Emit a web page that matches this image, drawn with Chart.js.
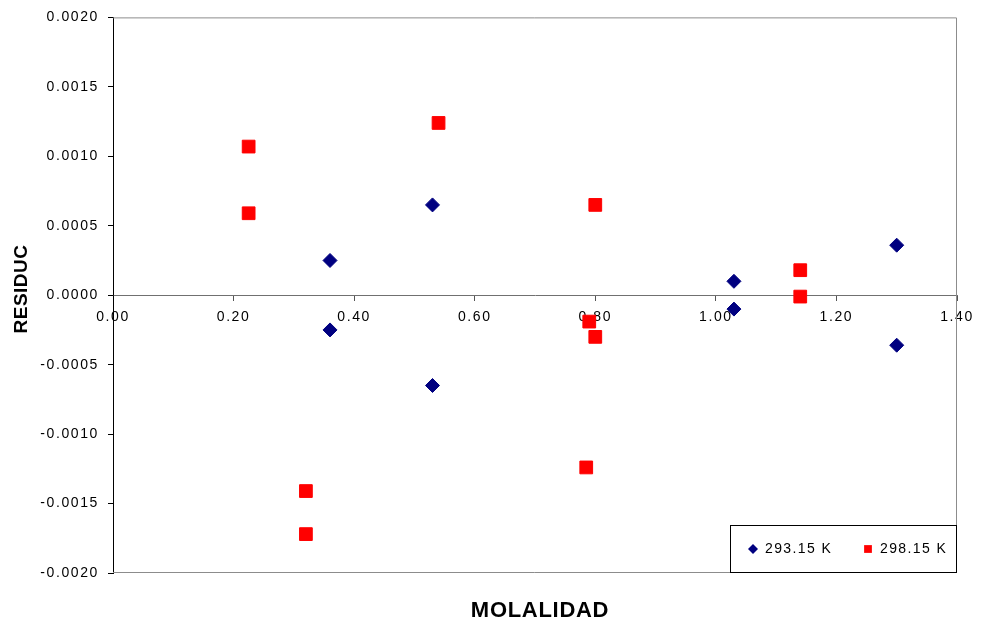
<!DOCTYPE html>
<html>
<head>
<meta charset="utf-8">
<script src="https://cdn.jsdelivr.net/npm/chart.js@4.4.1/dist/chart.umd.min.js"></script>
<style>
  html, body { margin: 0; padding: 0; background: #fff; }
  #wrap { width: 981px; height: 626px; }
</style>
</head>
<body>
<div id="wrap"><canvas id="residChart"></canvas></div>
<script>
// Serie 293.15 K
const molal293 = [0.36, 0.36, 0.53, 0.53, 1.03, 1.03, 1.30, 1.30];
const resid293 = [0.00025, -0.00025, 0.00065, -0.00065, 0.00010, -0.00010, 0.00036, -0.00036];

// Serie 298.15 K
const molal298 = [0.225, 0.225, 0.32, 0.32, 0.54, 0.80, 0.79, 0.80, 0.785, 1.14, 1.14];
const resid298 = [0.00107, 0.00059, -0.00141, -0.00172, 0.00124, 0.00065, -0.00019, -0.00030, -0.00124, 0.00018, -0.00001];

const seriesLabels = ['293.15 K', '298.15 K'];
const xTicks = [0, 0.2, 0.4, 0.6, 0.8, 1.0, 1.2, 1.4];
const yTicks = [-0.002, -0.0015, -0.001, -0.0005, 0, 0.0005, 0.001, 0.0015, 0.002];
const xTitle = 'MOLALIDAD';
const yTitle = 'RESIDUC';

const toPts = (xs, ys) => xs.map((x, i) => ({ x: x, y: ys[i] }));
const FONT = "'Liberation Sans', Arial, sans-serif";

// espaciado de letras como en el original
const spacing = {
    id: 'spacing',
    beforeDraw(chart) { chart.ctx.letterSpacing = '1.6px'; }
};

// marco gris del área de trazado (arriba, derecha, abajo)
const plotFrame = {
    id: 'plotFrame',
    beforeDatasetsDraw(chart) {
        const { ctx, chartArea: a } = chart;
        ctx.save();
        ctx.strokeStyle = '#8c8c8c';
        ctx.lineWidth = 1;
        ctx.beginPath();
        ctx.moveTo(a.left, a.top + 0.5);
        ctx.lineTo(a.right - 0.5, a.top + 0.5);
        ctx.lineTo(a.right - 0.5, a.bottom - 0.5);
        ctx.lineTo(a.left, a.bottom - 0.5);
        ctx.stroke();
        ctx.restore();
    }
};

// títulos de ejes y leyenda en recuadro
const extras = {
    id: 'extras',
    afterDraw(chart) {
        const { ctx, chartArea: a } = chart;
        ctx.save();
        ctx.fillStyle = '#000';
        ctx.textAlign = 'center';
        ctx.textBaseline = 'middle';
        ctx.letterSpacing = '0.7px';
        ctx.font = 'bold 22px ' + FONT;
        ctx.fillText(xTitle, (a.left + a.right) / 2 + 5, 611);
        ctx.save();
        ctx.translate(22, 289);
        ctx.rotate(-Math.PI / 2);
        ctx.letterSpacing = '0.5px';
        ctx.font = 'bold 19px ' + FONT;
        ctx.fillText(yTitle, 0, 0);
        ctx.restore();

        const w = 227, h = 48;
        const x0 = a.right - w, y0 = a.bottom - h;
        ctx.fillStyle = '#fff';
        ctx.fillRect(x0, y0, w, h);
        ctx.strokeStyle = '#000';
        ctx.lineWidth = 1;
        ctx.strokeRect(x0 + 0.5, y0 + 0.5, w - 1, h - 1);
        ctx.font = '14px ' + FONT;
        ctx.letterSpacing = '1.4px';
        ctx.textAlign = 'left';
        const cy = y0 + h / 2;
        const slots = [x0 + 23, x0 + 138];
        chart.data.datasets.forEach((ds, i) => {
            const mx = slots[i];
            ctx.fillStyle = ds.backgroundColor;
            Chart.helpers.drawPoint(ctx, { pointStyle: ds.pointStyle, radius: i === 0 ? 5 : 5.5, borderWidth: 0 }, mx, cy);
            ctx.fillStyle = '#000';
            ctx.fillText(ds.label, mx + 12, cy);
        });
        ctx.restore();
    }
};

new Chart(document.getElementById('residChart'), {
    type: 'scatter',
    data: {
        datasets: [
            {
                label: seriesLabels[0],
                data: toPts(molal293, resid293),
                pointStyle: 'rectRot',
                pointRadius: 7,
                pointHoverRadius: 7,
                backgroundColor: '#000080',
                borderColor: '#000080',
                borderWidth: 1
            },
            {
                label: seriesLabels[1],
                data: toPts(molal298, resid298),
                pointStyle: 'rect',
                pointRadius: 9,
                pointHoverRadius: 9,
                backgroundColor: '#ff0000',
                borderColor: '#ff0000',
                borderWidth: 1
            }
        ]
    },
    options: {
        responsive: true,
        maintainAspectRatio: false,
        animation: false,
        layout: { padding: { top: 11, right: 24, left: 0, bottom: 53 } },
        plugins: {
            legend: { display: false },
            tooltip: { enabled: false },
            title: { display: false }
        },
        scales: {
            x: {
                type: 'linear',
                position: { y: 0 },
                min: 0,
                max: 1.4,
                afterFit: s => { s.height = 0; },
                afterBuildTicks: s => { s.ticks = xTicks.map(v => ({ value: v })); },
                ticks: {
                    color: '#000',
                    font: { family: FONT, size: 14 },
                    padding: 9,
                    maxRotation: 0,
                    callback: v => v.toFixed(2)
                },
                grid: { drawOnChartArea: false, drawTicks: true, tickLength: 5, color: '#555' },
                border: { color: '#707070', width: 1 }
            },
            y: {
                type: 'linear',
                min: -0.002,
                max: 0.002,
                afterFit: s => { s.width = 113; },
                afterBuildTicks: s => { s.ticks = yTicks.map(v => ({ value: v })); },
                ticks: {
                    color: '#000',
                    font: { family: FONT, size: 14 },
                    padding: 9,
                    callback: v => (Math.abs(v) < 1e-12 ? 0 : v).toFixed(4)
                },
                grid: { drawOnChartArea: false, drawTicks: true, tickLength: 5, color: '#000' },
                border: { color: '#000', width: 1 }
            }
        }
    },
    plugins: [spacing, plotFrame, extras]
});
</script>
</body>
</html>
